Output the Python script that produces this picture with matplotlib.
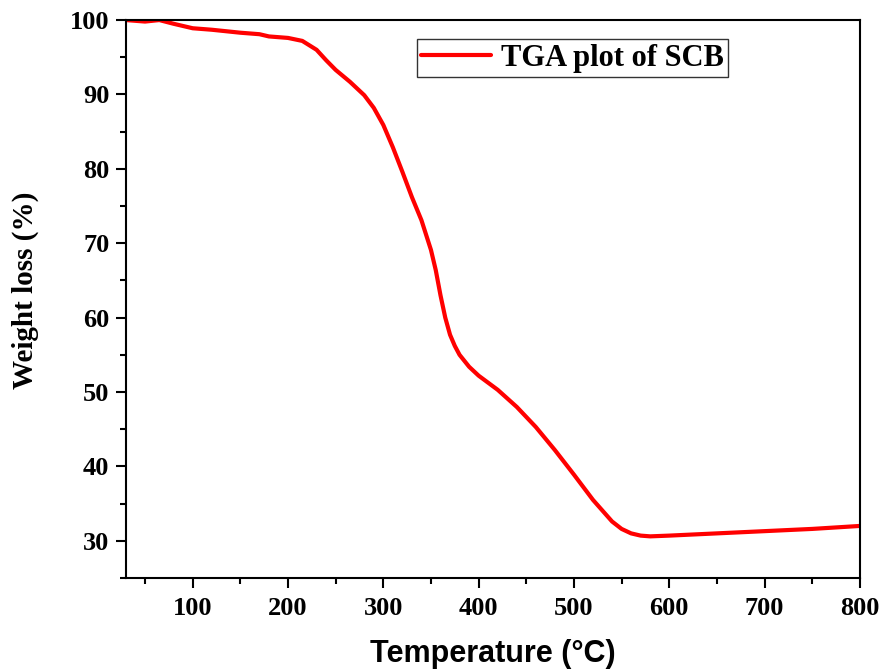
import matplotlib
matplotlib.use("Agg")
import matplotlib.pyplot as plt
from matplotlib.ticker import MultipleLocator

temperature = [30, 50, 65, 80, 100, 120, 150, 170, 180, 200, 215, 230, 240, 250, 265, 280,
               290, 300, 310, 320, 330, 340, 350, 355, 360, 365, 370, 375, 380, 390, 400, 420,
               440, 460, 480, 500, 520, 540, 550, 560, 570, 580, 600, 650, 700, 750, 800]
weight = [100.0, 99.8, 100.0, 99.5, 98.9, 98.7, 98.3, 98.1, 97.8, 97.6, 97.2, 96.0, 94.6,
          93.3, 91.7, 89.9, 88.2, 85.9, 82.9, 79.6, 76.2, 73.1, 69.1, 66.4, 63.0, 60.0,
          57.7, 56.2, 55.0, 53.4, 52.2, 50.3, 48.0, 45.3, 42.2, 38.9, 35.5, 32.6, 31.6,
          31.0, 30.7, 30.6, 30.7, 31.0, 31.3, 31.6, 32.0]
series_label = "TGA plot of SCB"
x_ticks = [100, 200, 300, 400, 500, 600, 700, 800]
y_ticks = [30, 40, 50, 60, 70, 80, 90, 100]

fig = plt.figure(figsize=(8.81, 6.69), dpi=100)
ax = fig.add_axes([0.143, 0.136, 0.833, 0.834])
ax.plot(temperature, weight, color="#ff0000", lw=3, label=series_label,
        solid_joinstyle="round", solid_capstyle="round")
ax.set_xlim(30, 800)
ax.set_ylim(25, 100)
ax.set_xticks(x_ticks)
ax.set_yticks(y_ticks)
ax.xaxis.set_minor_locator(MultipleLocator(50))
ax.yaxis.set_minor_locator(MultipleLocator(5))
ax.tick_params(which="major", direction="out", length=7, width=1.5, top=False, right=False)
ax.tick_params(which="minor", direction="out", length=4, width=1.5, top=False, right=False)
for s in ax.spines.values():
    s.set_linewidth(1.5)
for lab in ax.get_xticklabels() + ax.get_yticklabels():
    lab.set_fontfamily("Liberation Serif")
    lab.set_fontweight("bold")
    lab.set_fontsize(19)
ax.tick_params(axis="x", pad=7)
ax.tick_params(axis="y", pad=5)
ax.set_ylabel("Weight loss (%)", fontdict={"family": "Liberation Serif", "weight": "bold", "size": 21})
ax.yaxis.set_label_coords(-0.118, 0.516)
ax.set_xlabel("Temperature (°C)", fontdict={"family": "Liberation Sans", "weight": "bold", "size": 22}, labelpad=13)
leg = ax.legend(loc="upper left", bbox_to_anchor=(0.396, 0.966), frameon=True, fancybox=False,
                prop={"family": "Liberation Serif", "weight": "bold", "size": 22},
                handlelength=2.3, borderpad=0.15, handletextpad=0.3, borderaxespad=0)
leg.get_frame().set_edgecolor("black")
leg.get_frame().set_linewidth(1.0)
fig.savefig("out.png", dpi=100)
